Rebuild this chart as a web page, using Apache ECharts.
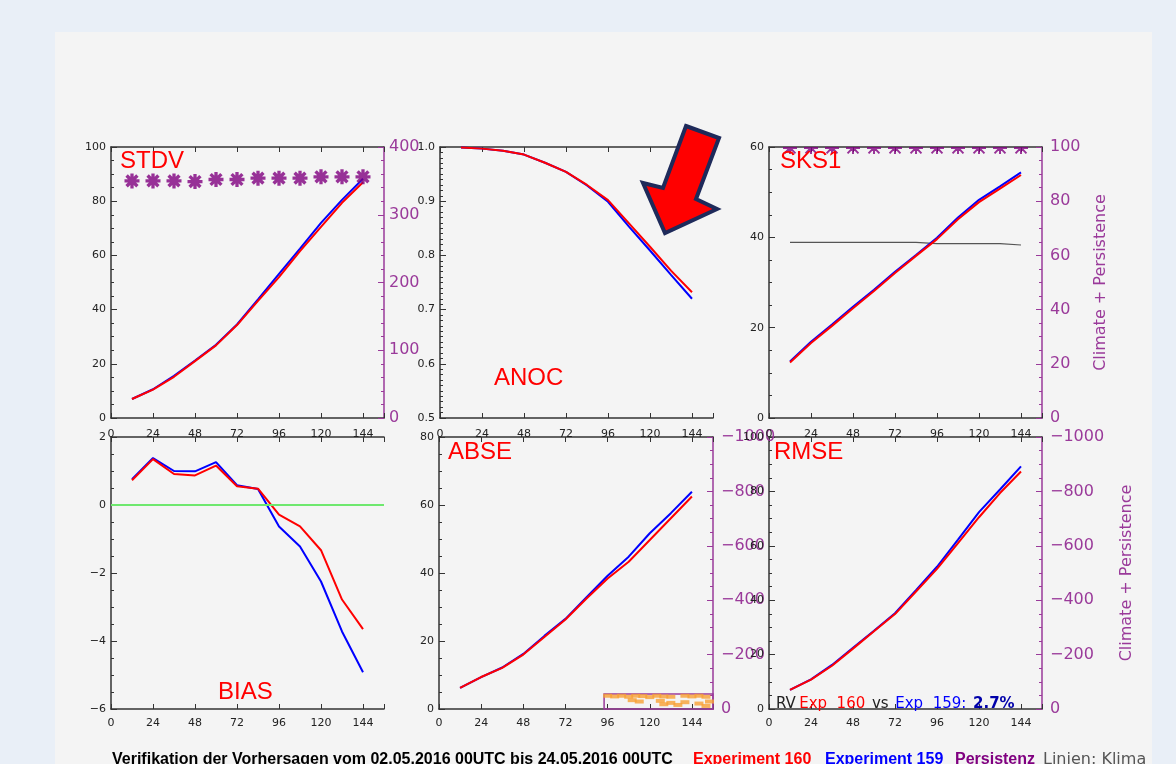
<!DOCTYPE html>
<html><head><meta charset="utf-8">
<script src="https://cdn.jsdelivr.net/npm/echarts@6/dist/echarts.min.js"></script>
<style>
html,body{margin:0;padding:0;background:#e9eff7;width:1176px;height:764px;overflow:hidden}
#panel{position:absolute;left:55px;top:32px;width:1097px;height:732px;background:#f4f4f4;overflow:hidden}
#chart{width:1097px;height:732px}
</style></head><body><div id="panel"><div id="chart"></div></div>
<script>
// ---------- data ----------
const hours = [12, 24, 36, 48, 60, 72, 84, 96, 108, 120, 132, 144];
const xTicks = [0, 24, 48, 72, 96, 120, 144];

const stdvExp160 = [7, 10.5, 15.2, 21, 26.8, 34.3, 43.2, 52, 61.6, 70.5, 79.4, 87];
const stdvExp159 = [7, 10.6, 15.6, 21.2, 27, 34.5, 43.8, 53.2, 62.5, 72, 80.5, 88.3];
const stdvPers   = [350, 350, 350, 349, 352, 352, 354, 354, 354, 356, 356, 356];

const anocExp160 = [0.999, 0.997, 0.993, 0.986, 0.971, 0.954, 0.930, 0.902, 0.859, 0.816, 0.772, 0.732];
const anocExp159 = [0.999, 0.997, 0.993, 0.986, 0.971, 0.954, 0.929, 0.899, 0.853, 0.809, 0.764, 0.720];

const sks1Exp160 = [12.3, 16.6, 20.4, 24.3, 28.1, 32.1, 35.9, 39.6, 44.0, 47.8, 50.8, 53.8];
const sks1Exp159 = [12.5, 16.9, 20.7, 24.6, 28.4, 32.4, 36.1, 39.9, 44.4, 48.3, 51.3, 54.4];
const sks1Clima  = [38.9, 38.9, 38.9, 38.9, 38.9, 38.9, 38.6, 38.6, 38.6, 38.6, 38.3, 38.3];
const sks1Pers   = [100, 100, 100, 100, 100, 100, 100, 100, 100, 100, 100, 100];

const biasExp160 = [0.73, 1.35, 0.91, 0.87, 1.16, 0.55, 0.48, -0.28, -0.63, -1.33, -2.78, -3.65];
const biasExp159 = [0.76, 1.38, 1.00, 0.99, 1.26, 0.58, 0.47, -0.63, -1.22, -2.25, -3.72, -4.92];

const abseExp160 = [6.2, 9.4, 12.1, 16.0, 21.2, 26.3, 32.5, 38.4, 43.3, 49.7, 56.1, 62.5];
const abseExp159 = [6.2, 9.4, 12.2, 16.2, 21.5, 26.5, 32.9, 39.2, 44.8, 51.7, 57.6, 63.9];
const abseInset  = [[96,3.9],[100,3.7],[104,3.9],[108,3.6],[112,3.9],[116,3.8],[120,3.5],[124,3.9],[128,3.7],[132,3.6],[140,3.9],[144,3.7],[148,3.9],[152,3.6],[110,2.6],[114,2.2],[126,2.4],[128,1.4],[132,1.8],[136,1.2],[140,2.0],[148,1.6],[152,0.9],[154,2.2]];

const rmseExp160 = [7, 10.8, 15.9, 22.2, 28.6, 34.9, 43.2, 51.5, 61.0, 70.5, 79.4, 87.3];
const rmseExp159 = [7, 10.9, 16.2, 22.5, 28.8, 35.2, 43.7, 52.3, 62.3, 72.4, 80.7, 89.2];

const panelTitles = ['STDV', 'ANOC', 'SKS1', 'BIAS', 'ABSE', 'RMSE'];
const rightAxisName = 'Climate + Persistence';
const captionMain = 'Verifikation der Vorhersagen vom 02.05.2016 00UTC bis 24.05.2016 00UTC';
const captionExp160 = 'Experiment 160';
const captionExp159 = 'Experiment 159';
const captionPers = 'Persistenz';
const captionLines = 'Linien: Klima';

// ---------- styling ----------
const AX = '#333';
const PAX = '#9a3a9a';
const PERS = '#800080';
const RED = '#ff0000';
const BLUE = '#0000ff';
const FONT = 'DejaVu Sans';

const STAR = 'path://M3.9,0 L6.1,0 L6.1,10 L3.9,10 Z M0,3.9 L10,3.9 L10,6.1 L0,6.1 Z M0.6,2.2 L2.2,0.6 L9.4,7.8 L7.8,9.4 Z M7.8,0.6 L9.4,2.2 L2.2,9.4 L0.6,7.8 Z';
const HALFSTAR = 'path://M0,0 L10,0 L10,1.4 L0,1.4 Z M4.3,0 L5.7,0 L5.7,5 L4.3,5 Z M4.5,0 L5.5,0.9 L1.6,5 L0.6,4.1 Z M4.5,0.9 L5.5,0 L9.4,4.1 L8.4,5 Z';

const pairs = ys => hours.map((h, i) => [h, ys[i]]);
const minus = v => (v < 0 ? '\u2212' + (-v) : String(v));

const grids = [
  {left: 56,  top: 115, width: 273, height: 271},
  {left: 385, top: 115, width: 273, height: 271},
  {left: 714, top: 115, width: 273, height: 271},
  {left: 56,  top: 405, width: 273, height: 272},
  {left: 384, top: 405, width: 274, height: 272},
  {left: 714, top: 405, width: 273, height: 272}
];

const xAxes = [];
grids.forEach((g, i) => {
  const row = i < 3 ? 0 : 1;
  xAxes.push({
    type: 'value', gridIndex: i, position: 'bottom', min: 0, max: 156, interval: 24,
    axisLine: {onZero: false, lineStyle: {color: AX, width: 1.5}},
    axisTick: {inside: true, length: 5, lineStyle: {color: AX}},
    splitLine: {show: false},
    axisLabel: {fontFamily: FONT, fontSize: 11, color: '#222', margin: row === 0 ? 11 : 9,
      formatter: v => (xTicks.indexOf(v) >= 0 ? String(v) : '')}
  });
  xAxes.push({
    type: 'value', gridIndex: i, position: 'top', min: 0, max: 156, interval: 24,
    axisLine: {onZero: false, lineStyle: {color: AX, width: 1.5}},
    axisTick: {inside: true, length: 5, lineStyle: {color: AX}},
    splitLine: {show: false}, axisLabel: {show: false}
  });
});

const yAxes = [];
function leftY(gi, min, max, interval, minorSplit, fmt) {
  yAxes.push({
    type: 'value', gridIndex: gi, position: 'left', min, max, interval,
    axisLine: {show: true, onZero: false, lineStyle: {color: AX, width: 1.5}},
    axisTick: {show: true, inside: true, length: 6, lineStyle: {color: AX}},
    minorTick: {show: true, splitNumber: minorSplit, length: 3, lineStyle: {color: AX}},
    splitLine: {show: false}, minorSplitLine: {show: false},
    axisLabel: {fontFamily: FONT, fontSize: 11, color: '#222', margin: 5, formatter: fmt || (v => String(v))}
  });
  return yAxes.length - 1;
}
function rightY(gi, min, max, interval, minorSplit, opts) {
  opts = opts || {};
  yAxes.push({
    type: 'value', gridIndex: gi, position: 'right', min, max, interval, inverse: !!opts.inverse,
    name: opts.name || '', nameLocation: 'middle', nameGap: opts.nameGap || 50,
    nameTextStyle: {fontFamily: FONT, fontSize: 16, color: PAX},
    axisLine: {show: true, onZero: false, lineStyle: {color: PAX, width: 1.5}},
    axisTick: {show: true, inside: true, length: 6, lineStyle: {color: PAX}},
    minorTick: {show: true, splitNumber: minorSplit, length: 3, lineStyle: {color: PAX}},
    splitLine: {show: false}, minorSplitLine: {show: false},
    axisLabel: {fontFamily: FONT, fontSize: 16, color: PAX, margin: opts.margin || 8, formatter: minus}
  });
  return yAxes.length - 1;
}

const yStdv = leftY(0, 0, 100, 20, 4);
const yStdvR = rightY(0, 0, 400, 100, 5, {margin: 5});
const yAnoc = leftY(1, 0.5, 1.0, 0.1, 10, v => v.toFixed(1));
const ySks = leftY(2, 0, 60, 20, 4);
const ySksR = rightY(2, 0, 100, 20, 4, {name: rightAxisName, nameGap: 51});
const yBias = leftY(3, -6, 2, 2, 4, minus);
const yAbse = leftY(4, 0, 80, 20, 4);
const yAbseR = rightY(4, -1000, 0, 200, 4, {inverse: true});
const yRmse = leftY(5, 0, 100, 20, 4);
const yRmseR = rightY(5, -1000, 0, 200, 4, {inverse: true, name: rightAxisName, nameGap: 77});

function line(gi, yi, ys, color, extra) {
  return Object.assign({
    type: 'line', xAxisIndex: gi * 2, yAxisIndex: yi, data: pairs(ys),
    showSymbol: false, symbol: 'none', lineStyle: {color, width: 2}, itemStyle: {color}, z: 3
  }, extra || {});
}

const series = [
  line(0, yStdv, stdvExp159, BLUE),
  line(0, yStdv, stdvExp160, RED),
  {type: 'scatter', xAxisIndex: 0, yAxisIndex: yStdvR, data: pairs(stdvPers),
   symbol: STAR, symbolSize: 15, itemStyle: {color: PERS}, z: 4},

  line(1, yAnoc, anocExp159, BLUE),
  line(1, yAnoc, anocExp160, RED),

  line(2, ySks, sks1Clima, '#555', {step: 'end', lineStyle: {color: '#555', width: 1.2}, z: 2}),
  line(2, ySks, sks1Exp159, BLUE),
  line(2, ySks, sks1Exp160, RED),
  {type: 'scatter', xAxisIndex: 4, yAxisIndex: ySksR, data: pairs(sks1Pers),
   symbol: HALFSTAR, symbolSize: [14, 7], symbolOffset: [0, 3.5], itemStyle: {color: PERS}, z: 4},

  line(3, yBias, biasExp159, BLUE, {
    markLine: {silent: true, symbol: 'none', label: {show: false},
      lineStyle: {color: '#6ee86e', width: 2, type: 'solid'}, data: [{yAxis: 0}]}
  }),
  line(3, yBias, biasExp160, RED),

  line(4, yAbse, abseExp159, BLUE),
  line(4, yAbse, abseExp160, RED),
  {type: 'scatter', xAxisIndex: 8, yAxisIndex: yAbse, data: abseInset,
   symbol: 'rect', symbolSize: [9, 4], itemStyle: {color: '#f7a035'}, z: 2,
   markArea: {silent: true, itemStyle: {color: 'rgba(0,0,0,0)', borderColor: PAX, borderWidth: 1.5},
     data: [[{coord: [94, 0]}, {coord: [156, 4.4]}]]}},

  line(5, yRmse, rmseExp159, BLUE),
  line(5, yRmse, rmseExp160, RED)
];

const titlePos = [[65, 117], [439, 334], [725, 117], [163, 648], [393, 408], [719, 408]];
const graphics = panelTitles.map((t, i) => ({
  type: 'text', x: titlePos[i][0], y: titlePos[i][1], z: 10,
  style: {text: t, fill: RED, font: '24px "Liberation Sans", Arial, sans-serif', verticalAlign: 'top'}
}));

// red arrow in ANOC panel
graphics.push({
  type: 'polygon', z: 20,
  shape: {points: [[631, 94], [664, 106], [641, 167], [662, 177], [610, 201], [588, 151], [608, 156]]},
  style: {fill: '#ff0000', stroke: '#1e2a5a', lineWidth: 4, lineJoin: 'miter'}
});

// RV text in RMSE panel
graphics.push({
  type: 'text', x: 721, y: 672, z: 10,
  style: {
    text: '{k|RV} {r|Exp  160}  {k|vs}  {b|Exp  159:}  {bb|2.7%}',
    verticalAlign: 'middle',
    rich: {
      k: {fill: '#222', font: '15px "DejaVu Sans"'},
      r: {fill: RED, font: '15px "DejaVu Sans"'},
      b: {fill: BLUE, font: '15px "DejaVu Sans"'},
      bb: {fill: '#0000aa', font: 'bold 15px "DejaVu Sans"'}
    }
  }
});

// caption
const capY = 728;
const capFont = 'bold 16px "Liberation Sans", Arial';
graphics.push({type: 'text', x: 57, y: capY, style: {text: captionMain, fill: '#000', font: capFont, verticalAlign: 'middle'}});
graphics.push({type: 'text', x: 638, y: capY, style: {text: captionExp160, fill: RED, font: capFont, verticalAlign: 'middle'}});
graphics.push({type: 'text', x: 770, y: capY, style: {text: captionExp159, fill: BLUE, font: capFont, verticalAlign: 'middle'}});
graphics.push({type: 'text', x: 900, y: capY, style: {text: captionPers, fill: PERS, font: capFont, verticalAlign: 'middle'}});
graphics.push({type: 'text', x: 988, y: capY, style: {text: captionLines, fill: '#555', font: '16px "DejaVu Sans"', verticalAlign: 'middle'}});

const chart = echarts.init(document.getElementById('chart'), null, {renderer: 'canvas'});
chart.setOption({
  animation: false,
  backgroundColor: '#f4f4f4',
  grid: grids.map(g => Object.assign({containLabel: false}, g)),
  xAxis: xAxes,
  yAxis: yAxes,
  series: series,
  graphic: graphics
});
</script></body></html>
